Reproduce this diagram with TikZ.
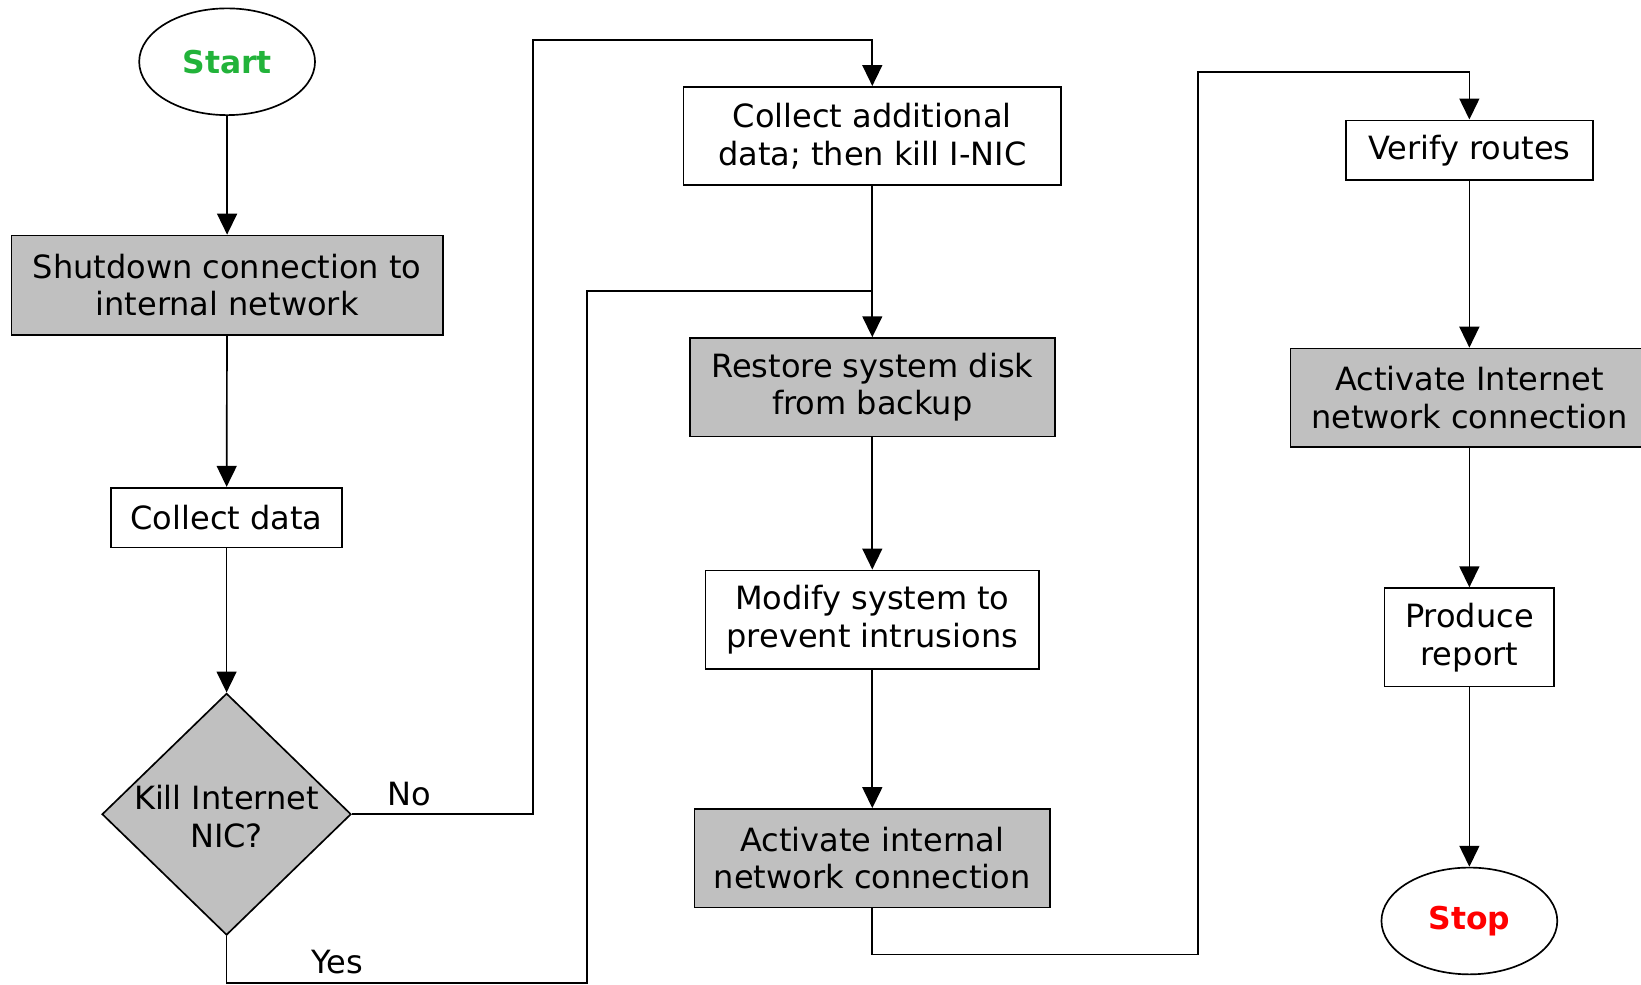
\documentclass[tikz,border=0pt]{standalone}
\usepackage{fontspec}
\setmainfont{DejaVu Sans}
\usetikzlibrary{shapes.geometric,arrows.meta}
\definecolor{boxgray}{HTML}{C0C0C0}
\definecolor{startgreen}{HTML}{22B33A}
\definecolor{stopred}{HTML}{FF0000}
\begin{document}
\begin{tikzpicture}[x=0.5pt,y=-0.5pt,
  font=\fontsize{15.3}{18}\selectfont,
  every node/.style={line width=0.8pt},
  proc/.style={draw=black,rectangle,align=center,inner sep=0pt},
  procg/.style={proc,fill=boxgray},
  term/.style={draw=black,ellipse,minimum width=84pt,minimum height=51pt,inner sep=0pt,font=\fontsize{15}{18}\selectfont\bfseries},
  decis/.style={draw=black,diamond,fill=boxgray,minimum width=119pt,minimum height=115.5pt,inner sep=0pt},
  conn/.style={line width=0.8pt,draw=black},
  arr/.style={conn,-{Triangle[length=10pt,width=9.5pt]}},
  lbl/.style={inner sep=0pt}]
\useasboundingbox (0,0) rectangle (1568,941);
% left column
\node[term,text=startgreen] (start) at (217,59) {Start};
\node[procg,minimum width=206pt,minimum height=47.5pt] (shut) at (217,272.5) {Shutdown connection to\\internal network};
\node[proc,minimum width=110.5pt,minimum height=28.5pt] (coll) at (216.5,494.5) {Collect data};
\node[decis,label={[align=center,inner sep=0pt,yshift=-1pt]center:Kill Internet\\NIC?}] (dec) at (216.5,778) {};
% middle column
\node[proc,minimum width=180.5pt,minimum height=47pt] (cadd) at (833.5,130) {Collect additional\\data; then kill I-NIC};
\node[procg,minimum width=174.5pt,minimum height=47pt] (rest) at (833.5,370) {Restore system disk\\from backup};
\node[proc,minimum width=159.5pt,minimum height=47pt] (modi) at (833.5,592) {Modify system to\\prevent intrusions};
\node[procg,minimum width=170pt,minimum height=47pt] (actint) at (833.5,820) {Activate internal\\network connection};
% right column
\node[proc,minimum width=118pt,minimum height=28.5pt] (veri) at (1404,143.5) {Verify routes};
\node[procg,minimum width=171pt,minimum height=47pt] (actnet) at (1404,380) {Activate Internet\\network connection};
\node[proc,minimum width=81pt,minimum height=47pt] (prod) at (1404,609) {Produce\\report};
\node[term,text=stopred] (stop) at (1404,880) {Stop};
% labels
\node[lbl] (no) at (391,759) {No};
\node[lbl] (yes) at (322,919) {Yes};
% routing points
\coordinate (nA) at (509,38);
\coordinate (yA) at (561,939);
\coordinate (jn) at (833.5,278);
\coordinate (vA) at (1145,912);
\coordinate (vB) at (1145,69);
% connectors
\draw[arr] (start) -- (shut);
\draw[arr] (shut) -- (coll);
\draw[arr] (coll) -- (dec);
\draw[arr] (dec.east) -| (nA) -| (cadd.north);
\draw[conn] (dec.south) |- (yA) |- (jn);
\draw[arr] (cadd) -- (rest);
\draw[arr] (rest) -- (modi);
\draw[arr] (modi) -- (actint);
\draw[arr] (actint.south) |- (vA) -- (vB) -| (veri.north);
\draw[arr] (veri) -- (actnet);
\draw[arr] (actnet) -- (prod);
\draw[arr] (prod) -- (stop);
\end{tikzpicture}
\end{document}
